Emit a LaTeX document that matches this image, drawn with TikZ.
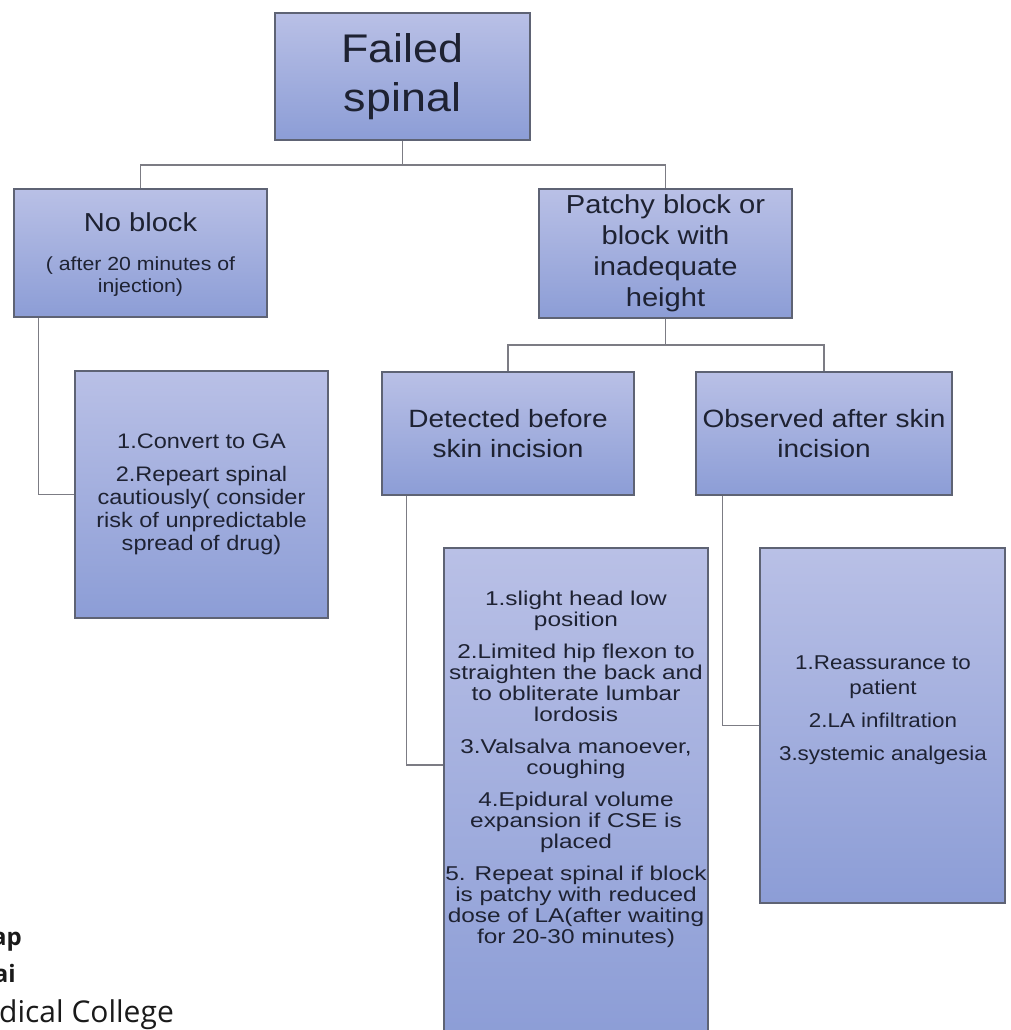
\documentclass[tikz,border=0pt]{standalone}
\usepackage{fontspec}
\setmainfont{Liberation Sans}[FakeStretch=1.12]
\newfontfamily\wide{Liberation Sans}[FakeStretch=1.22]
\newfontfamily\plex{Open Sans}
\definecolor{boxtop}{HTML}{B9C0E6}
\definecolor{boxbot}{HTML}{8C9DD6}
\definecolor{boxline}{HTML}{5E6374}
\definecolor{connc}{HTML}{7C7C84}
\definecolor{txt}{HTML}{1E2232}
\definecolor{lbl}{HTML}{1A1A1A}
\begin{document}
\begin{tikzpicture}[x=1pt,y=-1pt,
  box/.style={draw=boxline, line width=1.3pt, top color=boxtop, bottom color=boxbot, inner sep=0pt, text=txt, align=center},
  boxtext/.style={inner sep=0pt, text=txt, align=center},
  conn/.style={draw=connc, line width=1.2pt},
  frag/.style={inner sep=0pt, text=lbl}]
\useasboundingbox (0,0) rectangle (1011,1030);
\fill[white] (0,0) rectangle (1011,1030);

% boxes
\node[box, minimum width=255pt, minimum height=127pt, font=\fontsize{40}{49}\selectfont] (fs) at (402.5,76.5) {Failed\\spinal};
\node[box, minimum width=253pt, minimum height=128pt] (nb) at (140.5,253) {};
\node[boxtext, font=\fontsize{19}{22}\selectfont] (nbtxt) at (140.5,255)
  {\fontsize{26}{30}\selectfont No block\\[17pt]( after 20 minutes of\\injection)};
\node[box, minimum width=253pt, minimum height=129pt, font=\fontsize{26}{31}\selectfont] (pb) at (665.5,253.5)
  {Patchy block or\\block with\\inadequate\\height};
\node[box, minimum width=253pt, minimum height=247pt, font=\fontsize{21}{23}\selectfont] (cv) at (201.5,494.5)
  {1.Convert to GA\\[10pt]2.Repeart spinal\\cautiously(  consider\\risk of unpredictable\\spread of drug)};
\node[box, minimum width=252pt, minimum height=123pt, font=\fontsize{25}{30}\selectfont] (db) at (508,433.5)
  {Detected before\\skin incision};
\node[box, minimum width=256pt, minimum height=123pt, font=\fontsize{25}{30}\selectfont] (ob) at (824,433.5)
  {Observed after skin\\incision};
\node[box, minimum width=264pt, minimum height=490pt] (st) at (576,793) {};
\node[boxtext, font=\wide\fontsize{20}{21}\selectfont] (sttxt) at (576,769)
  {1.slight head low\\position\\[11pt]2.Limited hip flexon to\\straighten the  back and\\to obliterate lumbar\\lordosis\\[11pt]3.Valsalva manoever,\\coughing\\[11pt]4.Epidural volume\\expansion if CSE is\\placed\\[11pt]5. Repeat spinal if block\\is patchy with reduced\\dose of LA(after waiting\\for 20-30 minutes)};
\node[box, minimum width=245pt, minimum height=355pt] (ra) at (882.5,725.5) {};
\node[boxtext, font=\fontsize{20}{25}\selectfont] (ratxt) at (883,710)
  {1.Reassurance to\\patient\\[8pt]2.LA infiltration\\[8pt]3.systemic analgesia};

% connectors
\coordinate (j1) at (402.5,165);
\coordinate (j2) at (665.5,345);
\draw[conn] (fs.south) -- (j1);
\draw[conn] (j1) -| (nb.north);
\draw[conn] (j1) -| (pb.north);
\draw[conn] (pb.south) -- (j2);
\draw[conn] (j2) -| (db.north);
\draw[conn] (j2) -| (ob.north);
\draw[conn] ([xshift=25pt]nb.south west) |- (cv.west);
\draw[conn] ([xshift=25pt]db.south west) |- ([yshift=28pt]st.west);
\draw[conn] ([xshift=27pt]ob.south west) |- (ra.west);

% clipped fragments at the lower left
\node[frag, anchor=base east, font=\plex\bfseries\fontsize{24}{24}\selectfont] (ap) at (22,945) {ap};
\node[frag, anchor=base east, font=\plex\bfseries\fontsize{24}{24}\selectfont] (ai) at (16,982) {ai};
\node[frag, anchor=base west, font=\plex\fontsize{30}{30}\selectfont] (mc) at (-1,1022) {dical College};
\end{tikzpicture}
\end{document}
